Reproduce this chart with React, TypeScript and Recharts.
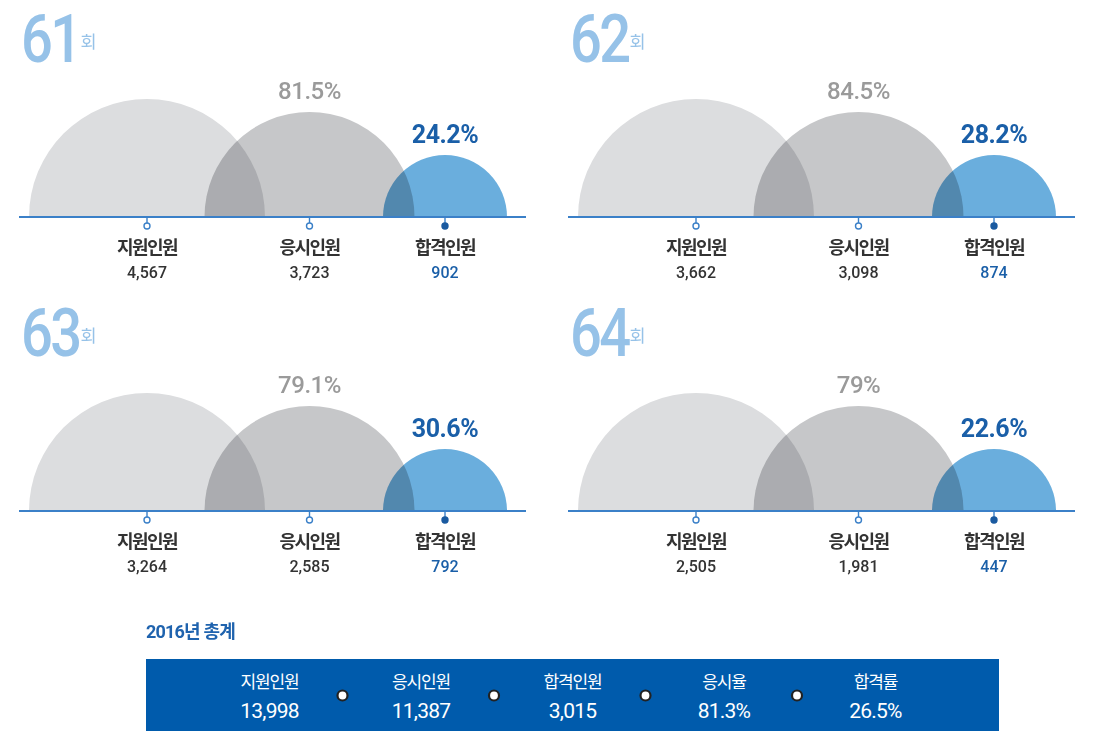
import React from "react";
import { Pie, PieChart } from "recharts";

const ROUNDS = [61, 62, 63, 64];
const CATEGORIES = ["지원인원", "응시인원", "합격인원"];
const APPLICANTS = [4567, 3662, 3264, 2505];
const TAKERS = [3723, 3098, 2585, 1981];
const PASSERS = [902, 874, 792, 447];
const TAKE_RATE = [81.5, 84.5, 79.1, 79];
const PASS_RATE = [24.2, 28.2, 30.6, 22.6];

const TOTAL_TITLE = "2016년 총계";
const TOTAL_LABELS = ["지원인원", "응시인원", "합격인원", "응시율", "합격률"];
const TOTAL_VALUES = ["13,998", "11,387", "3,015", "81.3%", "26.5%"];

// layout
const PANEL_W = 540;
const PANEL_H = 290;
const PANEL_POS = [
  [0, 0],
  [549, 0],
  [0, 294],
  [549, 294],
];
const BASE_Y = 217;
const ARCS = [
  { cx: 147, r: 118, fill: "#dcdddf" },
  { cx: 309.5, r: 105, fill: "#c6c7c9" },
  { cx: 445, r: 62, fill: "#6aaedd" },
];

const FONT = "Roboto, 'Noto Sans CJK KR', sans-serif";
const LIGHT_BLUE = "#96c2e8";
const DARK_BLUE = "#1a5fa8";
const LINE_BLUE = "#3b80c8";

function makeLabel(idx: number, rate: number | null) {
  return (props: any) => {
    const { cx, cy, outerRadius, payload } = props;
    const isPass = idx === 2;
    return (
      <g>
        {rate !== null && (
          <text
            x={cx}
            y={cy - outerRadius - 21}
            textAnchor="middle"
            dominantBaseline="central"
            fontFamily={FONT}
            fontSize={isPass ? 25 : 24}
            fontWeight={isPass ? 700 : 500}
            fill={isPass ? DARK_BLUE : "#9a9a9a"}
            letterSpacing={-0.5}
          >
            {`${rate}%`}
          </text>
        )}
        <line x1={cx} y1={cy + 1} x2={cx} y2={cy + 6} stroke={LINE_BLUE} strokeWidth={1.4} />
        <circle
          cx={cx}
          cy={cy + 9}
          r={3}
          fill={isPass ? "#1a5aa0" : "#fff"}
          stroke={isPass ? "#1a5aa0" : LINE_BLUE}
          strokeWidth={1.4}
        />
        <text
          x={cx}
          y={cy + 30}
          textAnchor="middle"
          dominantBaseline="central"
          fontFamily={FONT}
          fontSize={18}
          fontWeight={700}
          fill="#333"
          letterSpacing={-1.5}
        >
          {payload.name}
        </text>
        <text
          x={cx}
          y={cy + 55.5}
          textAnchor="middle"
          dominantBaseline="central"
          fontFamily={FONT}
          fontSize={16}
          fontWeight={500}
          fill={isPass ? DARK_BLUE : "#333"}
        >
          {payload.value.toLocaleString("en-US")}
        </text>
      </g>
    );
  };
}

function Panel({ i }: { i: number }) {
  const [left, top] = PANEL_POS[i];
  const values = [APPLICANTS[i], TAKERS[i], PASSERS[i]];
  const rates = [null, TAKE_RATE[i], PASS_RATE[i]];
  return (
    <div style={{ position: "absolute", left, top, width: PANEL_W, height: PANEL_H }}>
      <svg style={{ position: "absolute", left: 0, top: -12, overflow: "visible" }} width={130} height={100}>
        <text
          x={0}
          y={74}
          transform="translate(21 0) scale(0.85 1)"
          fontFamily="Roboto"
          fontSize={66}
          fontWeight={500}
          fill={LIGHT_BLUE}
          letterSpacing={-3}
        >
          {ROUNDS[i]}
        </text>
        <text
          x={80.5}
          y={52}
          dominantBaseline="central"
          fontFamily="'Noto Sans CJK KR'"
          fontSize={17.5}
          fill={LIGHT_BLUE}
        >
          회
        </text>
      </svg>
      <PieChart
        width={PANEL_W}
        height={PANEL_H}
        margin={{ top: 0, right: 0, bottom: 0, left: 0 }}
        className="arcs"
        style={{ position: "absolute", left: 0, top: 0 }}
      >
        {CATEGORIES.map((name, k) => (
          <Pie
            key={name}
            data={[{ name, value: values[k] }]}
            dataKey="value"
            nameKey="name"
            cx={ARCS[k].cx}
            cy={BASE_Y}
            innerRadius={0}
            outerRadius={ARCS[k].r}
            startAngle={180}
            endAngle={0}
            fill={ARCS[k].fill}
            stroke="none"
            labelLine={false}
            label={makeLabel(k, rates[k])}
            isAnimationActive={false}
          />
        ))}
      </PieChart>
      <div
        style={{
          position: "absolute",
          left: 19,
          top: BASE_Y - 1,
          width: 507,
          height: 2,
          background: LINE_BLUE,
        }}
      />
    </div>
  );
}

export default function App() {
  return (
    <div style={{ position: "absolute", left: 0, top: 0, width: 1111, height: 731, overflow: "hidden" }}>
      <style>{`.arcs path.recharts-sector { mix-blend-mode: multiply; }`}</style>
      {ROUNDS.map((_, i) => (
        <Panel key={i} i={i} />
      ))}
      <div
        style={{
          position: "absolute",
          left: 146,
          top: 620,
          fontFamily: FONT,
          fontSize: 18,
          lineHeight: "24px",
          fontWeight: 700,
          color: "#1f63ae",
          letterSpacing: -0.8,
        }}
      >
        {TOTAL_TITLE}
      </div>
      <svg style={{ position: "absolute", left: 146, top: 659 }} width={853} height={72}>
        <rect x={0} y={0} width={853} height={72} fill="#005bac" />
        {TOTAL_LABELS.map((lab, k) => {
          const x = 123.5 + k * 151.5;
          return (
            <g key={lab}>
              <text
                x={x}
                y={23}
                textAnchor="middle"
                dominantBaseline="central"
                fontFamily={FONT}
                fontSize={17}
                fontWeight={400}
                fill="#fff"
                letterSpacing={-1.2}
              >
                {lab}
              </text>
              <text
                x={x}
                y={51.5}
                textAnchor="middle"
                dominantBaseline="central"
                fontFamily={FONT}
                fontSize={21}
                fontWeight={400}
                fill="#fff"
                letterSpacing={-0.8}
              >
                {TOTAL_VALUES[k]}
              </text>
              {k < TOTAL_LABELS.length - 1 && (
                <circle cx={x + 73} cy={36.5} r={5} fill="#fff" stroke="#222" strokeWidth={2.2} />
              )}
            </g>
          );
        })}
      </svg>
    </div>
  );
}
